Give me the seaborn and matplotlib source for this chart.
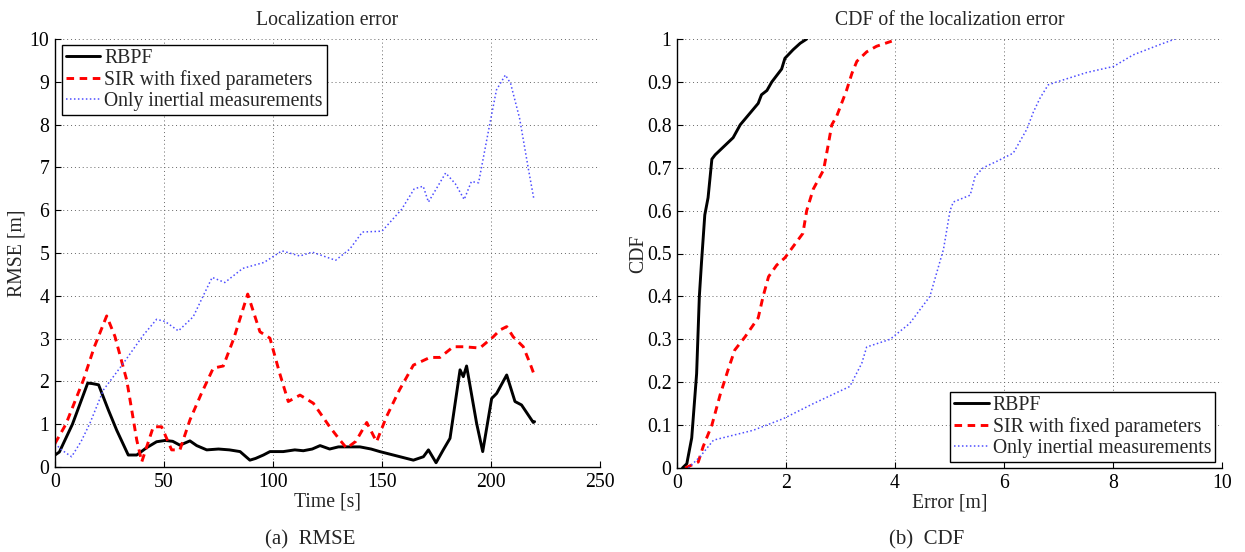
import matplotlib
matplotlib.use("Agg")
import matplotlib.pyplot as plt
import seaborn as sns
import pandas as pd

# ---------------- data ----------------
rbpf_t = [0, 2, 8, 15, 17, 20, 24.5, 28.3, 33.6, 37.5, 42, 46.6, 50.5, 54, 57.3, 61.9, 65, 69.6, 75, 80,
          84.9, 89.4, 92, 95.6, 98.6, 104.7, 110, 113.9, 118, 121.6, 126, 130, 133.8, 139.9, 145, 149,
          156.7, 164.4, 169, 171.3, 174.8, 178.1, 181.2, 185.8, 187.3, 188.8, 193.4, 196.2, 200.3,
          202.6, 207.2, 211, 214, 219.4, 220]
rbpf_v = [0.28, 0.35, 1.0, 1.96, 1.95, 1.92, 1.33, 0.86, 0.28, 0.28, 0.45, 0.59, 0.62, 0.6, 0.51, 0.61,
          0.5, 0.40, 0.42, 0.4, 0.36, 0.16, 0.2, 0.28, 0.36, 0.36, 0.4, 0.38, 0.42, 0.50, 0.42, 0.47,
          0.47, 0.47, 0.42, 0.36, 0.26, 0.16, 0.24, 0.40, 0.10, 0.40, 0.67, 2.27, 2.11, 2.36, 1.02,
          0.36, 1.60, 1.72, 2.15, 1.53, 1.45, 1.04, 1.06]

sir_t = [0, 5, 13, 18, 23.7, 27.5, 32.9, 37.5, 39.8, 45.1, 48.9, 53.5, 57.3, 61.9, 67, 72.6, 77.2, 82,
         88.4, 94, 98.6, 103, 107, 112.4, 118.5, 126, 130.7, 133.8, 138, 143, 147.5, 152.1, 158, 164.4,
         172, 176.6, 182.7, 187.3, 194.9, 201, 204.1, 207.2, 210.2, 214.8, 217.9, 220]
sir_v = [0.55, 1.0, 2.03, 2.8, 3.53, 3.05, 2.03, 0.63, 0.12, 0.94, 0.94, 0.40, 0.40, 1.10, 1.7, 2.31,
         2.36, 3.0, 4.04, 3.16, 3.01, 2.2, 1.53, 1.68, 1.49, 0.94, 0.63, 0.44, 0.6, 1.04, 0.59, 1.18,
         1.8, 2.38, 2.56, 2.56, 2.81, 2.81, 2.78, 3.04, 3.20, 3.28, 3.04, 2.81, 2.42, 2.13]

inertial_t = [0, 3, 7.6, 12, 16, 22.2, 31.3, 40.5, 46.6, 50.5, 56.6, 63.4, 68, 72.1, 77.9, 86.1, 95.9,
              104.1, 112.3, 118, 128.7, 135.2, 141, 150, 159, 164.8, 168.9, 171.3, 179.2, 183.6, 187.7,
              191, 194.3, 199.2, 202.5, 206.6, 209, 213.1, 217.2, 219.7]
inertial_v = [0.55, 0.4, 0.24, 0.6, 1.02, 1.80, 2.42, 3.08, 3.45, 3.40, 3.18, 3.51, 4.0, 4.43, 4.31,
              4.64, 4.78, 5.05, 4.93, 5.02, 4.83, 5.09, 5.49, 5.51, 6.02, 6.5, 6.56, 6.19, 6.87, 6.62,
              6.25, 6.67, 6.64, 7.95, 8.81, 9.16, 8.96, 8.15, 6.95, 6.25]

cdf_rbpf_x = [0.10, 0.18, 0.27, 0.36, 0.41, 0.45, 0.51, 0.57, 0.64, 0.70, 1.03, 1.16, 1.49, 1.55, 1.65,
              1.74, 1.92, 1.98, 2.13, 2.26, 2.38]
cdf_rbpf_p = [0.0, 0.01, 0.07, 0.22, 0.40, 0.48, 0.59, 0.63, 0.72, 0.73, 0.77, 0.80, 0.85, 0.87, 0.88,
              0.90, 0.93, 0.955, 0.975, 0.99, 1.0]

cdf_sir_x = [0.15, 0.39, 0.48, 0.64, 0.79, 0.94, 1.06, 1.25, 1.49, 1.58, 1.68, 1.83, 1.98, 2.13, 2.31,
             2.38, 2.50, 2.69, 2.78, 2.84, 2.93, 3.11, 3.21, 3.30, 3.48, 3.66, 3.94]
cdf_sir_p = [0.0, 0.014, 0.05, 0.10, 0.17, 0.23, 0.275, 0.306, 0.35, 0.40, 0.446, 0.473, 0.49, 0.516,
             0.547, 0.60, 0.65, 0.695, 0.757, 0.80, 0.82, 0.88, 0.92, 0.948, 0.97, 0.983, 0.995]

cdf_in_x = [0.21, 0.42, 0.67, 1.40, 1.95, 2.50, 3.17, 3.39, 3.48, 3.91, 4.27, 4.64, 4.89, 5.01, 5.07,
            5.38, 5.47, 5.62, 5.87, 6.17, 6.42, 6.54, 6.66, 6.81, 6.97, 7.52, 8.01, 8.37, 8.86, 9.14]
cdf_in_p = [0.0, 0.026, 0.065, 0.088, 0.115, 0.15, 0.19, 0.244, 0.282, 0.30, 0.337, 0.40, 0.51, 0.60,
            0.62, 0.636, 0.68, 0.70, 0.715, 0.734, 0.79, 0.83, 0.862, 0.893, 0.90, 0.922, 0.936, 0.963,
            0.987, 1.0]

labels = ["RBPF", "SIR with fixed parameters", "Only inertial measurements"]

# ---------------- style ----------------
sns.set_theme(style="white")
plt.rcParams["font.family"] = ["Liberation Serif", "DejaVu Serif"]
FS = 14.2

W, H = 1245, 552
fig = plt.figure(figsize=(W / 100, H / 100), dpi=100)
fig.patch.set_facecolor("white")

def axes_px(x0, x1, y0, y1):
    return fig.add_axes([x0 / W, 1 - y1 / H, (x1 - x0) / W, (y1 - y0) / H])

ax1 = axes_px(55, 600, 39, 467)
ax2 = axes_px(677, 1222, 39, 468)

styles = [
    dict(color="black", linewidth=2.1, dashes=None),
    dict(color="#ff0000", linewidth=2.1, dashes=(2.6, 1.9)),
    dict(color="#4d4dff", linewidth=1.1, dashes=(1.0, 1.6)),
]

def draw(ax, xs, ys):
    for x, y, lab, st in zip(xs, ys, labels, styles):
        df = pd.DataFrame({"x": x, "y": y})
        sns.lineplot(data=df, x="x", y="y", ax=ax, color=st["color"], linewidth=st["linewidth"],
                     label=lab, estimator=None, sort=False)
        ln = ax.lines[-1]
        if st["dashes"] is not None:
            ln.set_dashes(st["dashes"])
            ln.set_dash_capstyle("butt")

draw(ax1, [rbpf_t, sir_t, inertial_t], [rbpf_v, sir_v, inertial_v])
draw(ax2, [cdf_rbpf_x, cdf_sir_x, cdf_in_x], [cdf_rbpf_p, cdf_sir_p, cdf_in_p])

for ax in (ax1, ax2):
    ax.set_facecolor("white")
    for s in ("top", "right"):
        ax.spines[s].set_visible(False)
    for s in ("left", "bottom"):
        ax.spines[s].set_color("black")
        ax.spines[s].set_linewidth(1.0)
    ax.grid(True, color="#666666", linestyle=(0, (1, 3)), linewidth=0.7)
    ax.tick_params(direction="in", length=4, width=0.8, colors="black", labelsize=FS, pad=4,
                   left=True, bottom=True)

ax1.set_xlim(0, 250)
ax1.set_ylim(0, 10)
ax1.set_xticks([0, 50, 100, 150, 200, 250])
ax1.set_yticks(range(0, 11))
ax1.set_xlabel("Time [s]", fontsize=FS, labelpad=1)
ax1.set_ylabel("RMSE [m]", fontsize=FS, labelpad=2)
ax1.set_title("Localization error", fontsize=FS, pad=10)

ax2.set_xlim(0, 10)
ax2.set_ylim(0, 1)
ax2.set_xticks([0, 2, 4, 6, 8, 10])
ax2.set_yticks([i / 10 for i in range(11)])
ax2.set_yticklabels(["0"] + [f"{i/10:g}" for i in range(1, 10)] + ["1"])
ax2.set_xlabel("Error [m]", fontsize=FS, labelpad=1)
ax2.set_ylabel("CDF", fontsize=FS, labelpad=-1)
ax2.set_title("CDF of the localization error", fontsize=FS, pad=10)

leg_kw = dict(fontsize=FS, handlelength=1.75, handletextpad=0.2, labelspacing=0.1, borderpad=0.2,
              borderaxespad=0, fancybox=False, framealpha=1, edgecolor="black", frameon=True)
lg1 = ax1.legend(loc="upper left", bbox_to_anchor=(7 / 545, 1 - 6 / 428), **leg_kw)
lg2 = ax2.legend(loc="lower right", bbox_to_anchor=((1215 - 677) / 545, 6 / 429), **leg_kw)
for lg in (lg1, lg2):
    lg.get_frame().set_linewidth(1.0)
    for h, st in zip(lg.get_lines(), styles):
        if st["dashes"] is not None:
            h.set_dashes(st["dashes"])

fig.text(310 / W, 1 - 540 / H, "(a)  RMSE", ha="center", va="center", fontsize=15)
fig.text(927 / W, 1 - 540 / H, "(b)  CDF", ha="center", va="center", fontsize=15)

fig.savefig("out.png", dpi=100, facecolor="white")
